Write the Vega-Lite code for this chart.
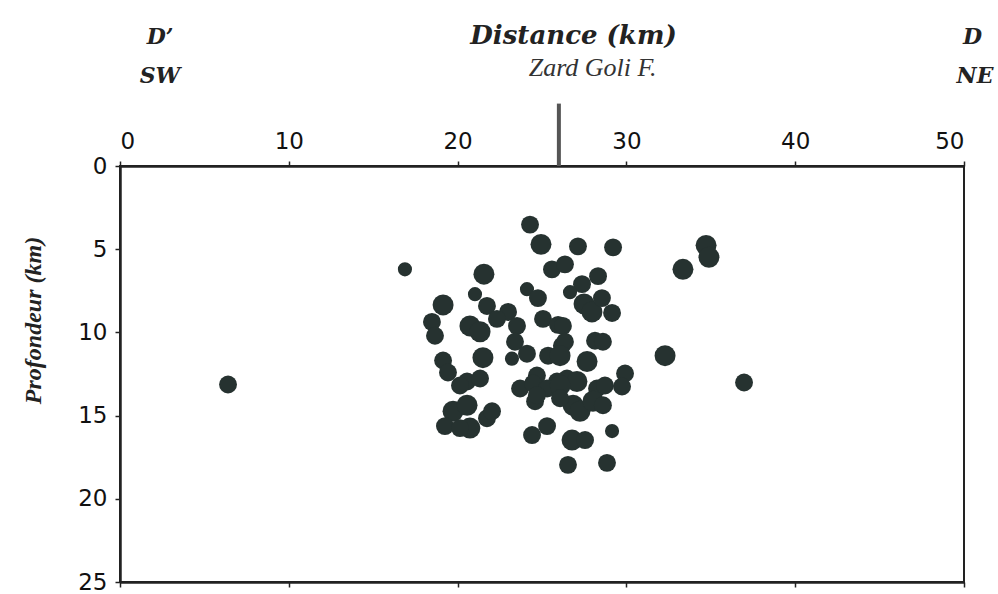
{
  "$schema": "https://vega.github.io/schema/vega-lite/v6.json",
  "autosize": "none",
  "width": 844,
  "height": 416,
  "padding": {"left": 120, "top": 166, "right": 34, "bottom": 12},
  "background": "white",
  "config": {
    "view": {"stroke": "#222", "strokeWidth": 2},
    "axis": {
      "grid": false,
      "domainColor": "#222",
      "domainWidth": 2.5,
      "tickColor": "#222",
      "tickWidth": 1.5,
      "tickSize": 5,
      "labelFont": "DejaVu Sans",
      "labelFontSize": 23,
      "labelColor": "#111",
      "labelPadding": 8
    }
  },
  "datasets": {
    "quakes": [
      {"dist": 6.40, "depth": 13.13, "mag": 2.5},
      {"dist": 16.88, "depth": 6.21, "mag": 2.0},
      {"dist": 24.29, "depth": 3.52, "mag": 2.5},
      {"dist": 24.94, "depth": 4.71, "mag": 3.0},
      {"dist": 27.13, "depth": 4.83, "mag": 2.5},
      {"dist": 29.21, "depth": 4.89, "mag": 2.5},
      {"dist": 34.72, "depth": 4.77, "mag": 3.0},
      {"dist": 34.89, "depth": 5.49, "mag": 3.0},
      {"dist": 33.35, "depth": 6.21, "mag": 3.0},
      {"dist": 21.56, "depth": 6.50, "mag": 3.0},
      {"dist": 25.59, "depth": 6.21, "mag": 2.5},
      {"dist": 26.36, "depth": 5.91, "mag": 2.5},
      {"dist": 28.32, "depth": 6.62, "mag": 2.5},
      {"dist": 27.37, "depth": 7.10, "mag": 2.5},
      {"dist": 26.66, "depth": 7.58, "mag": 2.0},
      {"dist": 24.11, "depth": 7.40, "mag": 2.0},
      {"dist": 24.76, "depth": 7.94, "mag": 2.5},
      {"dist": 27.49, "depth": 8.29, "mag": 3.0},
      {"dist": 27.96, "depth": 8.77, "mag": 3.0},
      {"dist": 28.55, "depth": 7.94, "mag": 2.5},
      {"dist": 29.15, "depth": 8.83, "mag": 2.5},
      {"dist": 22.99, "depth": 8.77, "mag": 2.5},
      {"dist": 23.52, "depth": 9.61, "mag": 2.5},
      {"dist": 25.06, "depth": 9.19, "mag": 2.5},
      {"dist": 25.95, "depth": 9.55, "mag": 2.5},
      {"dist": 26.24, "depth": 9.61, "mag": 2.5},
      {"dist": 21.03, "depth": 7.70, "mag": 2.0},
      {"dist": 19.14, "depth": 8.35, "mag": 3.0},
      {"dist": 21.74, "depth": 8.41, "mag": 2.5},
      {"dist": 18.48, "depth": 9.37, "mag": 2.5},
      {"dist": 18.66, "depth": 10.20, "mag": 2.5},
      {"dist": 20.73, "depth": 9.61, "mag": 3.0},
      {"dist": 21.33, "depth": 9.96, "mag": 3.0},
      {"dist": 22.33, "depth": 9.19, "mag": 2.5},
      {"dist": 23.40, "depth": 10.56, "mag": 2.5},
      {"dist": 24.11, "depth": 11.28, "mag": 2.5},
      {"dist": 23.22, "depth": 11.58, "mag": 2.0},
      {"dist": 21.50, "depth": 11.52, "mag": 3.0},
      {"dist": 19.14, "depth": 11.69, "mag": 2.5},
      {"dist": 19.43, "depth": 12.41, "mag": 2.5},
      {"dist": 20.56, "depth": 12.95, "mag": 2.5},
      {"dist": 21.33, "depth": 12.77, "mag": 2.5},
      {"dist": 25.36, "depth": 11.40, "mag": 2.5},
      {"dist": 26.18, "depth": 10.80, "mag": 2.5},
      {"dist": 26.36, "depth": 10.56, "mag": 2.5},
      {"dist": 26.07, "depth": 11.40, "mag": 3.0},
      {"dist": 28.14, "depth": 10.50, "mag": 2.5},
      {"dist": 28.61, "depth": 10.56, "mag": 2.5},
      {"dist": 27.67, "depth": 11.75, "mag": 3.0},
      {"dist": 32.29, "depth": 11.40, "mag": 3.0},
      {"dist": 29.92, "depth": 12.47, "mag": 2.5},
      {"dist": 29.74, "depth": 13.25, "mag": 2.5},
      {"dist": 26.48, "depth": 12.77, "mag": 2.5},
      {"dist": 27.07, "depth": 12.95, "mag": 3.0},
      {"dist": 28.26, "depth": 13.37, "mag": 2.5},
      {"dist": 28.73, "depth": 13.19, "mag": 2.5},
      {"dist": 23.70, "depth": 13.37, "mag": 2.5},
      {"dist": 24.70, "depth": 12.59, "mag": 2.5},
      {"dist": 25.89, "depth": 12.95, "mag": 2.5},
      {"dist": 24.47, "depth": 13.07, "mag": 2.5},
      {"dist": 24.59, "depth": 14.14, "mag": 2.5},
      {"dist": 25.30, "depth": 13.37, "mag": 2.5},
      {"dist": 24.70, "depth": 13.78, "mag": 2.5},
      {"dist": 26.07, "depth": 13.19, "mag": 3.0},
      {"dist": 26.84, "depth": 14.38, "mag": 3.0},
      {"dist": 27.25, "depth": 14.74, "mag": 3.0},
      {"dist": 28.02, "depth": 14.14, "mag": 3.0},
      {"dist": 28.61, "depth": 14.38, "mag": 2.5},
      {"dist": 26.07, "depth": 13.96, "mag": 2.5},
      {"dist": 24.41, "depth": 16.17, "mag": 2.5},
      {"dist": 25.30, "depth": 15.63, "mag": 2.5},
      {"dist": 26.78, "depth": 16.47, "mag": 3.0},
      {"dist": 27.55, "depth": 16.47, "mag": 2.5},
      {"dist": 29.15, "depth": 15.93, "mag": 2.0},
      {"dist": 26.54, "depth": 17.96, "mag": 2.5},
      {"dist": 28.85, "depth": 17.84, "mag": 2.5},
      {"dist": 36.97, "depth": 13.01, "mag": 2.5},
      {"dist": 20.14, "depth": 13.19, "mag": 2.5},
      {"dist": 19.73, "depth": 14.74, "mag": 3.0},
      {"dist": 19.25, "depth": 15.63, "mag": 2.5},
      {"dist": 20.56, "depth": 14.38, "mag": 3.0},
      {"dist": 20.73, "depth": 15.75, "mag": 3.0},
      {"dist": 21.74, "depth": 15.16, "mag": 2.5},
      {"dist": 22.04, "depth": 14.74, "mag": 2.5},
      {"dist": 20.14, "depth": 15.75, "mag": 2.5}
    ],
    "fault": [
      {"dist": 26.0, "depth": -3.75, "bottom": 0}
    ],
    "ends": [
      {"label": "D’", "dist": 2.37, "depth": -7.34},
      {"label": "SW", "dist": 2.37, "depth": -5.01},
      {"label": "D", "dist": 50.5, "depth": -7.34},
      {"label": "NE", "dist": 50.65, "depth": -5.01}
    ],
    "note": [
      {"label": "Zard Goli F.", "dist": 28.0, "depth": -5.43}
    ]
  },
  "encoding": {
    "y": {
      "field": "depth", "type": "quantitative",
      "scale": {"domain": [0, 25], "reverse": true, "nice": false},
      "axis": {
        "orient": "left", "values": [0, 5, 10, 15, 20, 25],
        "title": "Profondeur (km)",
        "titleFont": "Liberation Serif", "titleFontSize": 24,
        "titleFontWeight": "bold", "titleFontStyle": "italic",
        "titleColor": "#222",
        "titleAngle": -90,
        "titleX": -80, "titleY": 154,
        "titleAlign": "center", "titleBaseline": "alphabetic"
      }
    }
  },
  "layer": [
    {
      "data": {"name": "quakes"},
      "mark": {"type": "circle", "opacity": 1, "color": "#263230"},
      "encoding": {
        "x": {
          "field": "dist", "type": "quantitative",
          "scale": {"domain": [0, 50], "nice": false},
          "axis": {
            "orient": "top", "values": [0, 10, 20, 30, 40, 50],
            "title": "Distance (km)",
            "titleFont": "DejaVu Serif", "titleFontSize": 26,
            "titleFontWeight": "bold", "titleFontStyle": "italic",
            "titleColor": "#222",
            "titleX": 453, "titleY": -123,
            "titleAlign": "center", "titleBaseline": "alphabetic"
          }
        },
        "size": {
          "field": "mag", "type": "quantitative",
          "scale": {"domain": [2, 3.5], "range": [200, 560]},
          "legend": null
        }
      }
    },
    {
      "data": {"name": "fault"},
      "mark": {"type": "rule", "color": "#555", "strokeWidth": 4, "clip": false},
      "encoding": {
        "x": {
          "field": "dist", "type": "quantitative",
          "axis": {
            "orient": "bottom", "values": [0, 10, 20, 30, 40, 50],
            "labels": false, "title": null
          }
        },
        "y2": {"field": "bottom"}
      }
    },
    {
      "data": {"name": "ends"},
      "mark": {
        "type": "text", "font": "DejaVu Serif", "fontSize": 22,
        "fontWeight": "bold", "fontStyle": "italic", "color": "#222",
        "align": "center", "baseline": "alphabetic", "clip": false
      },
      "encoding": {
        "x": {"field": "dist", "type": "quantitative", "axis": null},
        "text": {"field": "label"}
      }
    },
    {
      "data": {"name": "note"},
      "mark": {
        "type": "text", "font": "Liberation Serif", "fontSize": 26,
        "fontStyle": "italic", "color": "#333",
        "align": "center", "baseline": "alphabetic", "clip": false
      },
      "encoding": {
        "x": {"field": "dist", "type": "quantitative", "axis": null},
        "text": {"field": "label"}
      }
    }
  ]
}
